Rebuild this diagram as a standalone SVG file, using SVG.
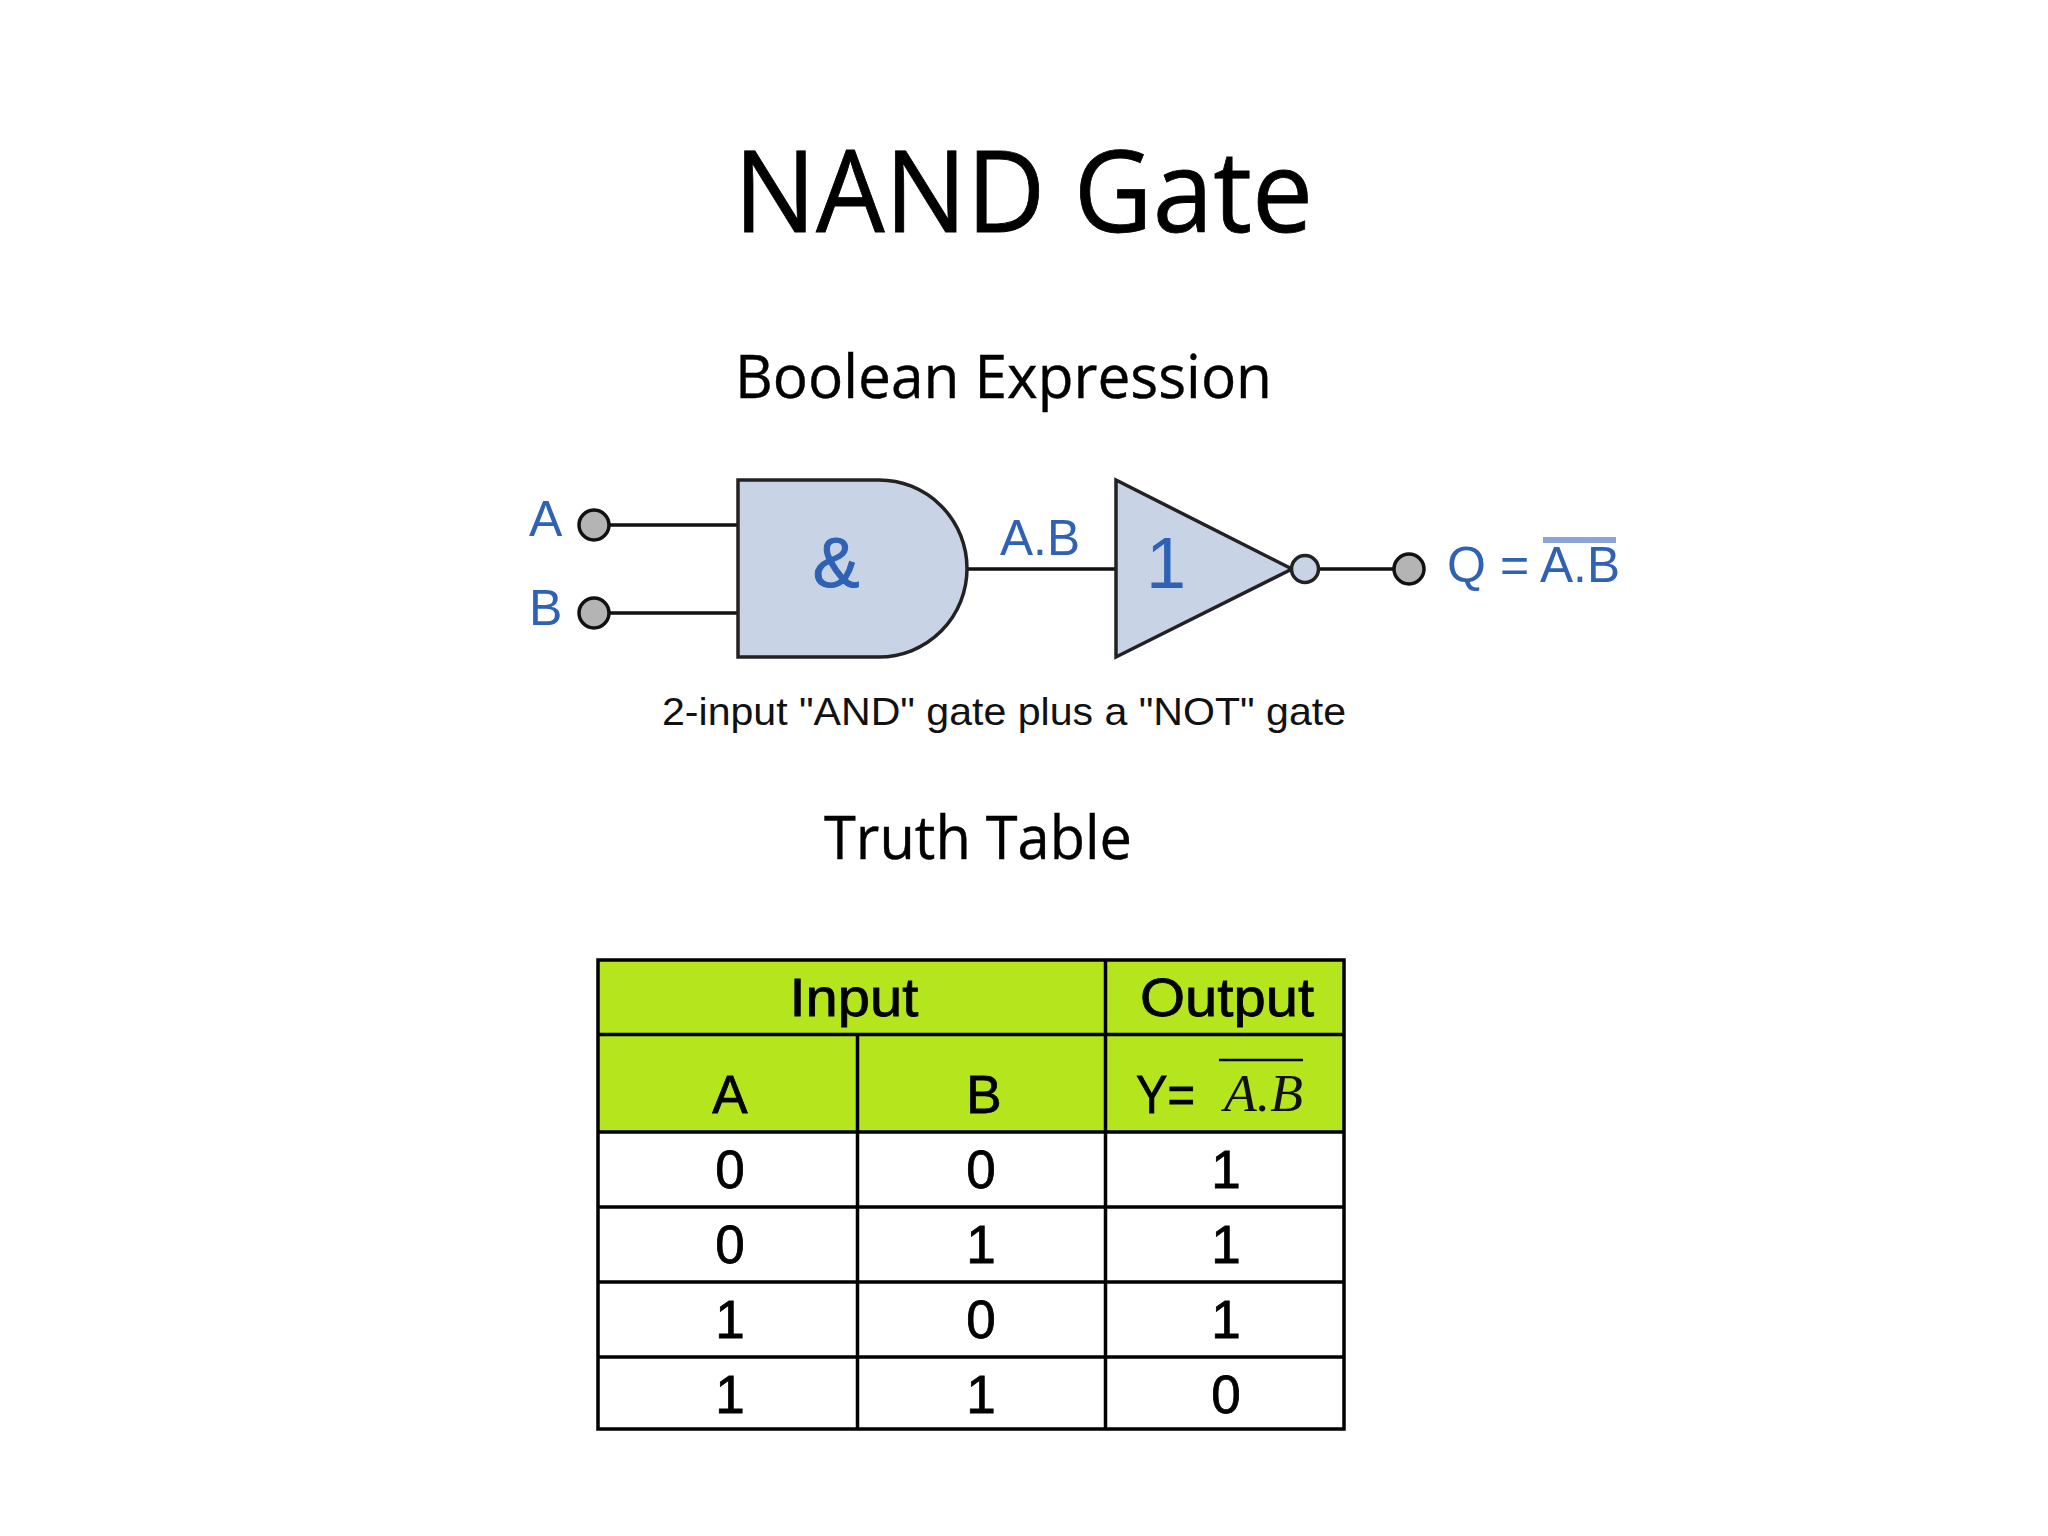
<svg xmlns="http://www.w3.org/2000/svg" width="2048" height="1536" viewBox="0 0 2048 1536">
<style>
.h{font-family:"Open Sans","Noto Sans",sans-serif;fill:#000}
.b{font-family:"Liberation Sans",Arial,sans-serif;fill:#2f62b5}
.t{font-family:"Liberation Sans",Arial,sans-serif;fill:#000;font-size:53px;text-anchor:middle;stroke:#000;stroke-width:.8}
.w{stroke:#111;stroke-width:3.5;fill:none}
.g{fill:#c8d3e6;stroke:#222;stroke-width:3.5}
.p{fill:#b4b4b4;stroke:#111;stroke-width:3.5}
.l{stroke:#000;stroke-width:3.500;fill:none}
</style>
<rect width="2048" height="1536" fill="#fff"/>
<text class="h" x="734" y="232" font-size="113" textLength="579" lengthAdjust="spacingAndGlyphs" stroke="#000" stroke-width=".8">NAND Gate</text>
<text class="h" x="735" y="398" font-size="60" textLength="537" lengthAdjust="spacingAndGlyphs" stroke="#000" stroke-width=".4">Boolean Expression</text>
<text class="h" x="824" y="859" font-size="60" textLength="308" lengthAdjust="spacingAndGlyphs" stroke="#000" stroke-width=".4">Truth Table</text>

<g id="connectors">
<path class="w" d="M609 525H738M609 613H738M967 569H1116M1318 569H1394"/>
</g>
<g id="input-a"><text class="b" x="529" y="536" font-size="50">A</text><circle class="p" cx="594" cy="525" r="15"/></g>
<g id="input-b"><text class="b" x="529" y="625" font-size="50">B</text><circle class="p" cx="594" cy="613" r="15"/></g>
<g id="and-gate">
<path class="g" d="M738 480H879A88 88.500 0 0 1 879 657H738Z"/>
<text class="b" x="836" y="587" font-size="70" text-anchor="middle" stroke="#2f62b5" stroke-width="1">&amp;</text>
</g>
<text id="label-ab" class="b" x="1000" y="555" font-size="50" textLength="80" lengthAdjust="spacingAndGlyphs">A.B</text>
<g id="not-gate">
<path class="g" d="M1116 480L1292 569L1116 657Z"/>
<text class="b" x="1166" y="588" font-size="72" text-anchor="middle">1</text>
<circle cx="1305" cy="569" r="13.500" class="g"/>
</g>
<g id="output-q">
<circle class="p" cx="1409" cy="569" r="15"/>
<text class="b" x="1447" y="582" font-size="50">Q</text>
<text class="b" x="1500" y="582" font-size="50">=</text>
<text class="b" x="1540" y="582" font-size="50" textLength="80" lengthAdjust="spacingAndGlyphs">A.B</text>
<rect x="1543" y="537" width="73" height="6" fill="#8ba6d6"/>
</g>
<text id="caption" x="662" y="725" font-family="'Liberation Sans',Arial,sans-serif" font-size="39" fill="#111" textLength="684" lengthAdjust="spacingAndGlyphs">2-input "AND" gate plus a "NOT" gate</text>

<g id="truth-table">
<rect x="598" y="960" width="746" height="172" fill="#b5e61d"/>
<path class="l" d="M598 960H1344V1429H598ZM598 1034.500H1344M598 1132H1344M598 1207H1344M598 1282H1344M598 1357H1344M857.500 1034.500V1429M1105.500 960V1429"/>
<text class="t" x="854" y="1016" textLength="129" lengthAdjust="spacingAndGlyphs">Input</text>
<text class="t" x="1227" y="1016" textLength="174" lengthAdjust="spacingAndGlyphs">Output</text>
<text class="t" x="730" y="1113">A</text>
<text class="t" x="984" y="1113">B</text>
<text class="t" x="1136" y="1113" style="text-anchor:start" textLength="59" lengthAdjust="spacingAndGlyphs">Y=</text>
<text x="1224" y="1111" font-family="'Liberation Serif',serif" font-style="italic" font-size="52" textLength="79" lengthAdjust="spacingAndGlyphs" fill="#111">A.B</text>
<path d="M1219 1060H1303" stroke="#000" stroke-width="2.500"/>
<text class="t" x="730" y="1188">0</text><text class="t" x="981" y="1188">0</text><text class="t" x="1226" y="1188">1</text>
<text class="t" x="730" y="1263">0</text><text class="t" x="981" y="1263">1</text><text class="t" x="1226" y="1263">1</text>
<text class="t" x="730" y="1338">1</text><text class="t" x="981" y="1338">0</text><text class="t" x="1226" y="1338">1</text>
<text class="t" x="730" y="1413">1</text><text class="t" x="981" y="1413">1</text><text class="t" x="1226" y="1413">0</text>
</g>
</svg>
